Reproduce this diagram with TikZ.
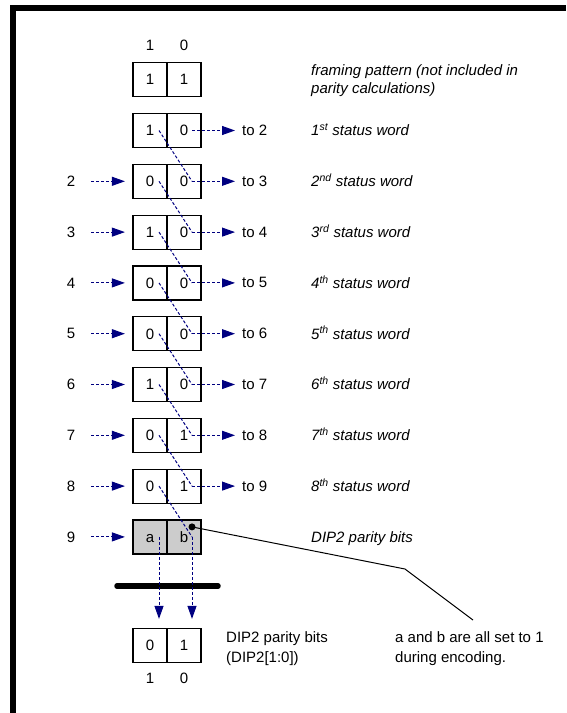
\documentclass[tikz,border=0pt]{standalone}
\usepackage{fontspec}
\setmainfont{Liberation Sans}
\usetikzlibrary{arrows.meta}
\definecolor{dipblue}{HTML}{000080}
\definecolor{dipgray}{HTML}{CCCCCC}
\tikzset{
  bit/.style={draw, line width=1.2pt, minimum width=34pt, minimum height=34pt, inner sep=0pt, text height=10.7pt, text depth=0pt},
  wire/.style={dipblue, line width=1pt, dash pattern=on 3pt off 2pt},
  feed/.style={wire, -{Triangle[length=13pt,width=9pt]}},
  tag/.style={inner sep=0pt},
  word/.style={inner sep=0pt, anchor=base west, font=\fontsize{15}{18}\selectfont\itshape},
  note/.style={inner sep=0pt, anchor=base west, align=left, font=\fontsize{15}{20}\selectfont},
}

\begin{document}
\begin{tikzpicture}[x=1pt, y=-1pt, font=\fontsize{15}{18}\selectfont]
    \useasboundingbox (0,0) rectangle (566,713);
    \fill (10,5) rectangle (566,11);
    \fill (10,5) rectangle (16,713);

    % framing pattern
    \node[tag] (top1) at (150,45) {1};
    \node[tag] (top0) at (184,45) {0};
    \node[bit] (hi0) at (150,79.5) {1};
    \node[bit] (lo0) at (184,79.5) {1};
    \node[word, align=left] (w0) at (311,93) {framing pattern (not included in\\parity calculations)};

    % status words
    \node[bit] (hi1) at (150,130.5) {1};
    \node[bit] (lo1) at (184,130.5) {0};
    \node[bit] (hi2) at (150,181.3) {0};
    \node[bit] (lo2) at (184,181.3) {0};
    \node[bit] (hi3) at (150,232.1) {1};
    \node[bit] (lo3) at (184,232.1) {0};
    \node[bit] (hi4) at (150,282.9) {0};
    \node[bit] (lo4) at (184,282.9) {0};
    \node[bit] (hi5) at (150,333.7) {0};
    \node[bit] (lo5) at (184,333.7) {0};
    \node[bit] (hi6) at (150,384.5) {1};
    \node[bit] (lo6) at (184,384.5) {0};
    \node[bit] (hi7) at (150,435.3) {0};
    \node[bit] (lo7) at (184,435.3) {1};
    \node[bit] (hi8) at (150,486.1) {0};
    \node[bit] (lo8) at (184,486.1) {1};
    \node[bit, fill=dipgray] (hi9) at (150,536.9) {a};
    \node[bit, fill=dipgray] (lo9) at (184,536.9) {b};

    \node[word] (w1) at (311,135.9) {1\textsuperscript{st} status word};
    \node[word] (w2) at (311,186.7) {2\textsuperscript{nd} status word};
    \node[word] (w3) at (311,237.5) {3\textsuperscript{rd} status word};
    \node[word] (w4) at (311,288.3) {4\textsuperscript{th} status word};
    \node[word] (w5) at (311,339.1) {5\textsuperscript{th} status word};
    \node[word] (w6) at (311,389.9) {6\textsuperscript{th} status word};
    \node[word] (w7) at (311,440.7) {7\textsuperscript{th} status word};
    \node[word] (w8) at (311,491.5) {8\textsuperscript{th} status word};
    \node[word] (w9) at (311,542.3) {DIP2 parity bits};

    % carry in
    \node[tag] (in2) at (71,181.3) {2};
    \node[tag] (in3) at (71,232.1) {3};
    \node[tag] (in4) at (71,282.9) {4};
    \node[tag] (in5) at (71,333.7) {5};
    \node[tag] (in6) at (71,384.5) {6};
    \node[tag] (in7) at (71,435.3) {7};
    \node[tag] (in8) at (71,486.1) {8};
    \node[tag] (in9) at (71,536.9) {9};

    % carry out
    \node[tag, anchor=west] (to1) at (242,130.5) {to 2};
    \node[tag, anchor=west] (to2) at (242,181.3) {to 3};
    \node[tag, anchor=west] (to3) at (242,232.1) {to 4};
    \node[tag, anchor=west] (to4) at (242,282.9) {to 5};
    \node[tag, anchor=west] (to5) at (242,333.7) {to 6};
    \node[tag, anchor=west] (to6) at (242,384.5) {to 7};
    \node[tag, anchor=west] (to7) at (242,435.3) {to 8};
    \node[tag, anchor=west] (to8) at (242,486.1) {to 9};

    \draw[feed] ([xshift=8pt]lo1.center) -- ([xshift=-7pt]to1.west);
    \draw[feed] ([xshift=8pt]lo2.center) -- ([xshift=-7pt]to2.west);
    \draw[feed] ([xshift=8pt]lo3.center) -- ([xshift=-7pt]to3.west);
    \draw[feed] ([xshift=8pt]lo4.center) -- ([xshift=-7pt]to4.west);
    \draw[feed] ([xshift=8pt]lo5.center) -- ([xshift=-7pt]to5.west);
    \draw[feed] ([xshift=8pt]lo6.center) -- ([xshift=-7pt]to6.west);
    \draw[feed] ([xshift=8pt]lo7.center) -- ([xshift=-7pt]to7.west);
    \draw[feed] ([xshift=8pt]lo8.center) -- ([xshift=-7pt]to8.west);

    \draw[feed] ([xshift=20pt]in2.center) -- ([xshift=-7.5pt]hi2.west);
    \draw[feed] ([xshift=20pt]in3.center) -- ([xshift=-7.5pt]hi3.west);
    \draw[feed] ([xshift=20pt]in4.center) -- ([xshift=-7.5pt]hi4.west);
    \draw[feed] ([xshift=20pt]in5.center) -- ([xshift=-7.5pt]hi5.west);
    \draw[feed] ([xshift=20pt]in6.center) -- ([xshift=-7.5pt]hi6.west);
    \draw[feed] ([xshift=20pt]in7.center) -- ([xshift=-7.5pt]hi7.west);
    \draw[feed] ([xshift=20pt]in8.center) -- ([xshift=-7.5pt]hi8.west);
    \draw[feed] ([xshift=20pt]in9.center) -- ([xshift=-7.5pt]hi9.west);

    % bit 1 of each word goes to bit 0 of the next
    \draw[wire] ([xshift=9pt]hi1.center) -- ([xshift=8pt]lo2.center);
    \draw[wire] ([xshift=9pt]hi2.center) -- ([xshift=8pt]lo3.center);
    \draw[wire] ([xshift=9pt]hi3.center) -- ([xshift=8pt]lo4.center);
    \draw[wire] ([xshift=9pt]hi4.center) -- ([xshift=8pt]lo5.center);
    \draw[wire] ([xshift=9pt]hi5.center) -- ([xshift=8pt]lo6.center);
    \draw[wire] ([xshift=9pt]hi6.center) -- ([xshift=8pt]lo7.center);
    \draw[wire] ([xshift=9pt]hi7.center) -- ([xshift=8pt]lo8.center);
    \draw[wire] ([xshift=9pt]hi8.center) -- ([xshift=8pt]lo9.center);

    % result
    \draw[line width=5.5pt, line cap=round] (117,586) -- (218,586);
    \node[bit] (dip1) at (150,645.5) {0};
    \node[bit] (dip0) at (184,645.5) {1};
    \node[tag] (bot1) at (150,678) {1};
    \node[tag] (bot0) at (184,678) {0};
    \draw[feed] ([xshift=9pt]hi9.center) -- ([xshift=9pt,yshift=9pt]dip1.north);
    \draw[feed] ([xshift=8pt]lo9.center) -- ([xshift=8pt,yshift=9pt]dip0.north);
    \node[note] (res) at (226,662) {DIP2 parity bits\\(DIP2[1:0])};
    \node[note] (enc) at (395,662) {a and b are all set to 1\\during encoding.};

    % callout
    \coordinate (dot) at ([xshift=8pt,yshift=10pt]lo9.center);
    \coordinate (bend) at (405,569);
    \coordinate (tip) at (473,620);
    \fill (dot) circle (3.5pt);
    \draw[line width=1pt] (dot) -- (bend) -- (tip);
  \end{tikzpicture}
\end{document}
